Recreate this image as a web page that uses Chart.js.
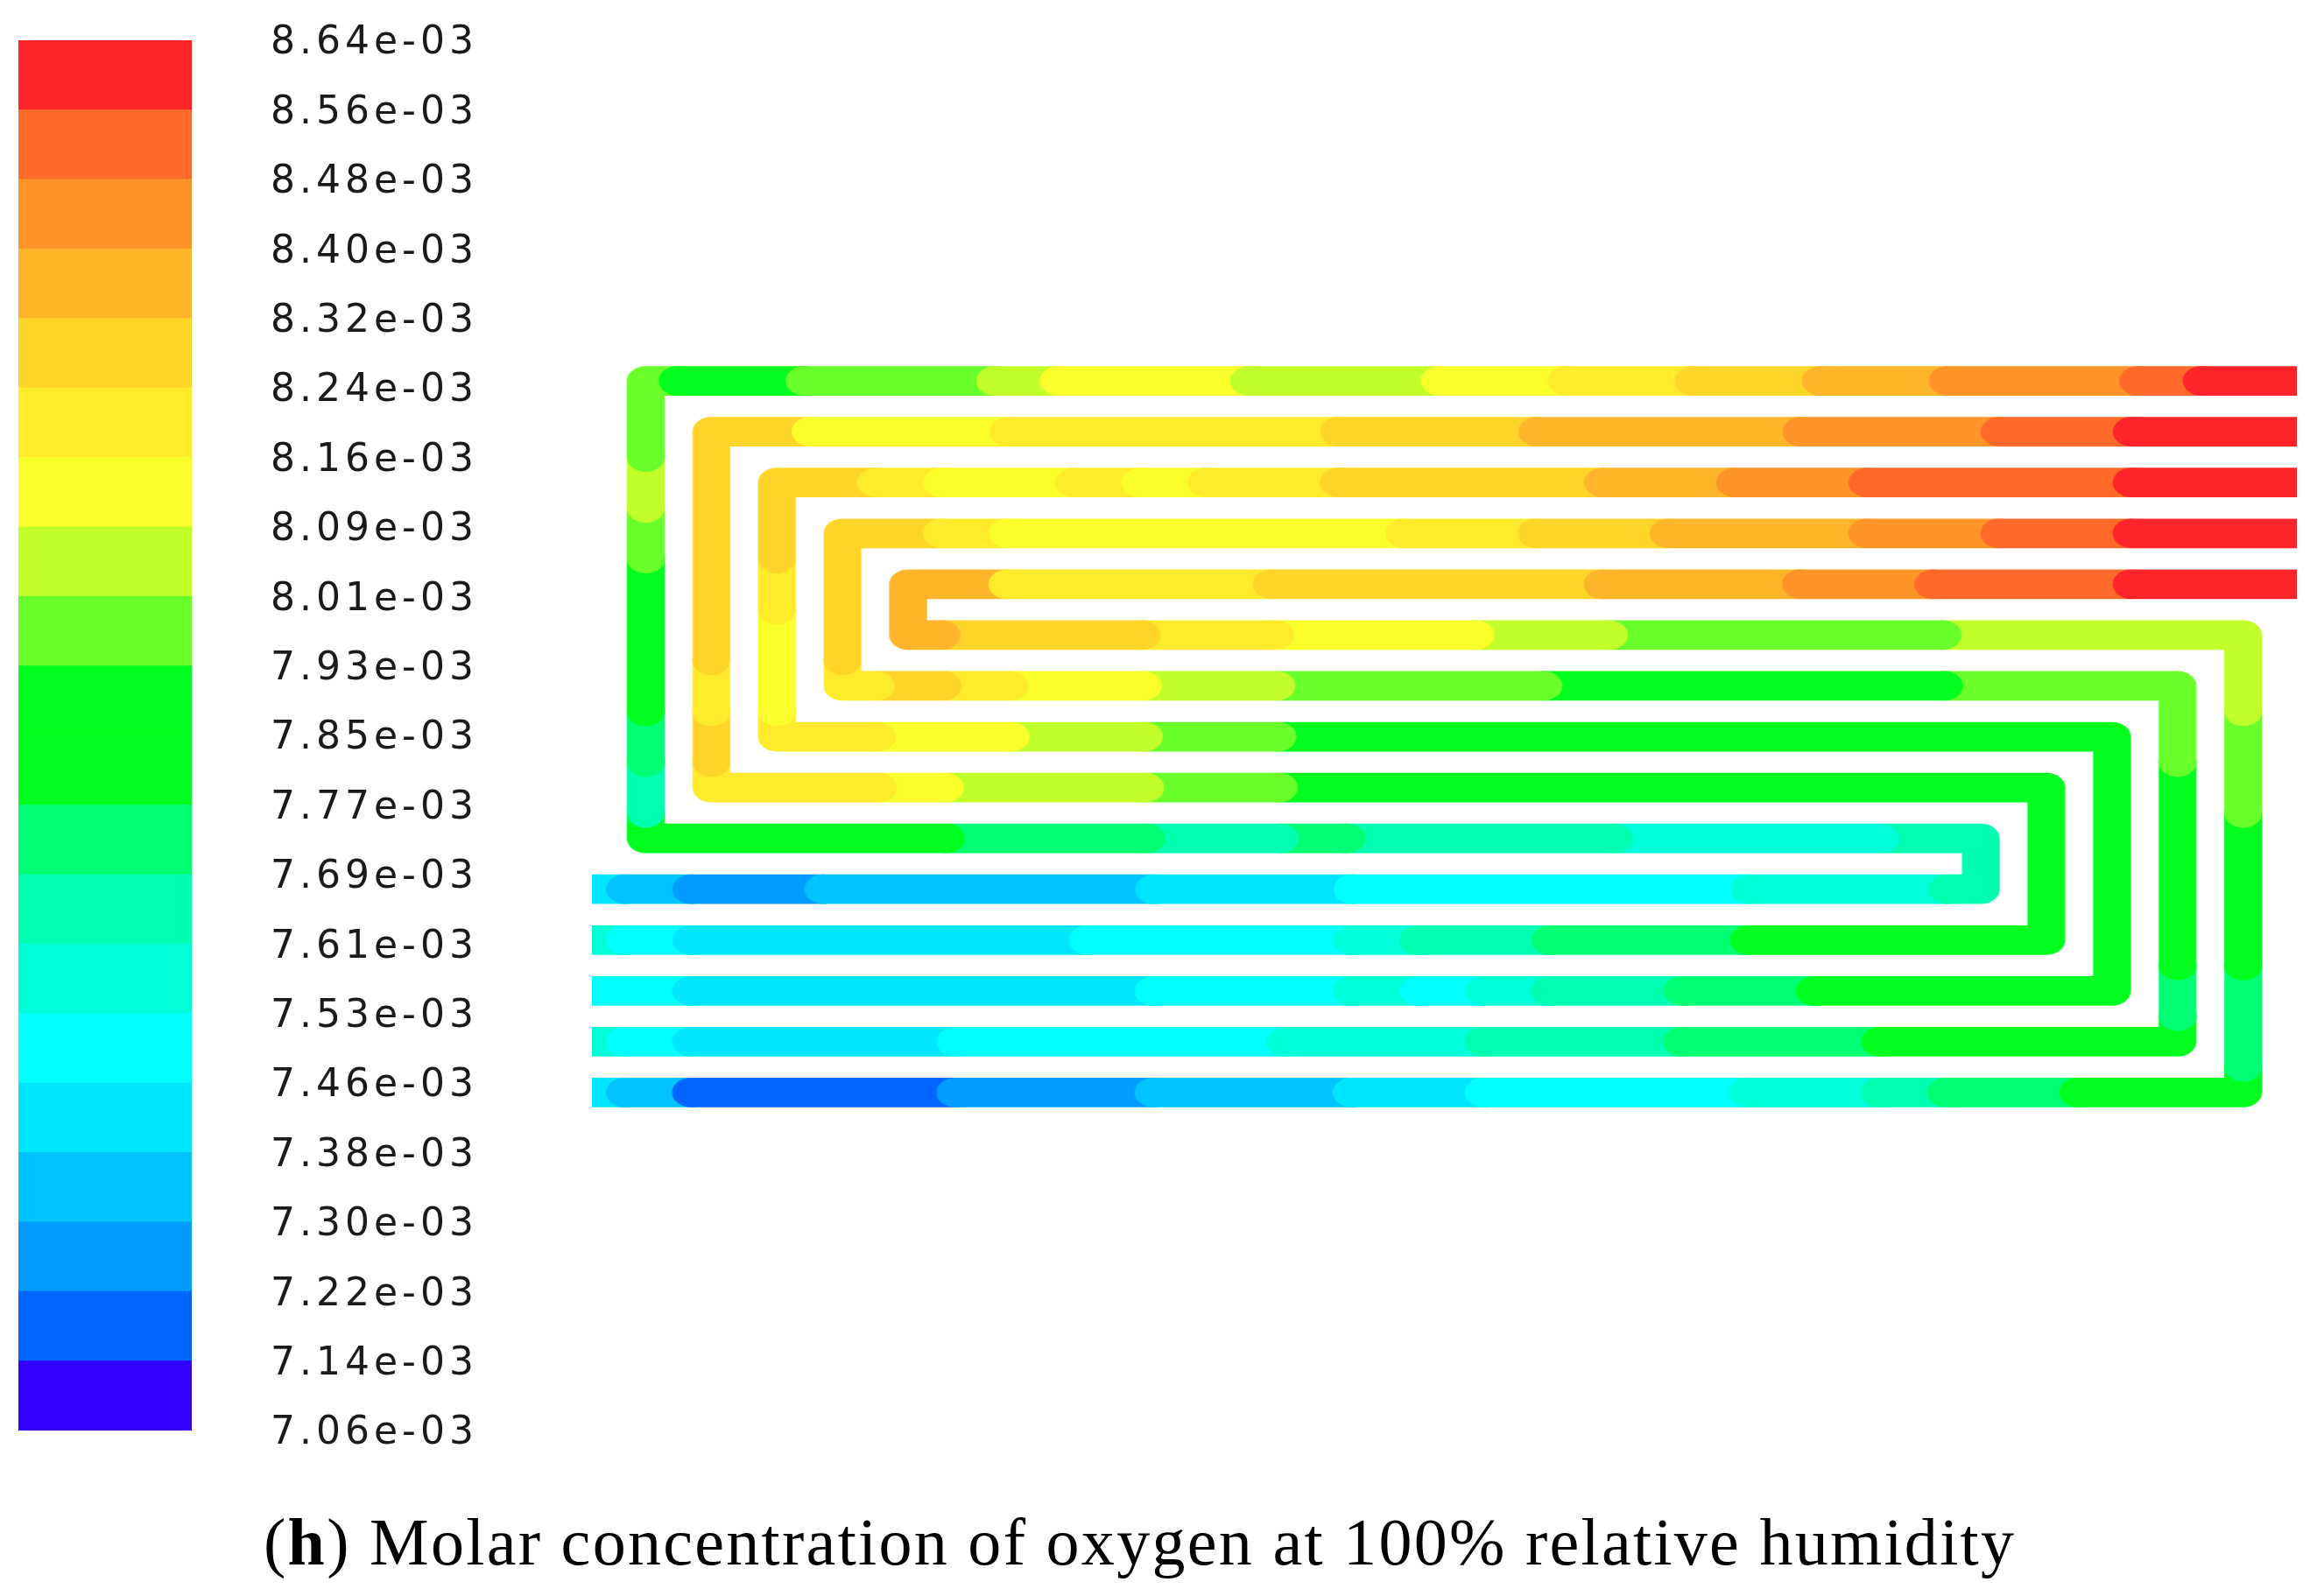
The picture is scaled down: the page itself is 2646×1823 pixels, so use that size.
<!DOCTYPE html>
<html><head><meta charset="utf-8">
<script src="https://cdn.jsdelivr.net/npm/chart.js@4.4.1/dist/chart.umd.min.js"></script>
<style>
html,body{margin:0;padding:0;background:#fff;}
#page{position:relative;width:2646px;height:1823px;overflow:hidden;background:#fff;}
#bar{position:absolute;left:0;top:0;}
#flow{position:absolute;left:676px;top:377px;transform-origin:0 0;transform:scaleX(1.2801);}
#cap{position:absolute;left:301px;top:1723px;font-family:'Liberation Serif','Times New Roman',serif;font-size:76px;line-height:76px;color:#000;white-space:nowrap;}
</style></head>
<body><div id="page">
<canvas id="bar" width="600" height="1700"></canvas>
<canvas id="flow" width="1521" height="929"></canvas>
<div id="cap">(<b>h</b>) Molar concentration of oxygen at 100% relative humidity</div>
</div>
<script>
// ---- colour scale (×1e-3) ----
const tickLabels = ['8.64e-03','8.56e-03','8.48e-03','8.40e-03','8.32e-03','8.24e-03','8.16e-03','8.09e-03','8.01e-03','7.93e-03','7.85e-03','7.77e-03','7.69e-03','7.61e-03','7.53e-03','7.46e-03','7.38e-03','7.30e-03','7.22e-03','7.14e-03','7.06e-03'];
const levels = [7.06,7.14,7.22,7.30,7.38,7.46,7.53,7.61,7.69,7.77,7.85,7.93,8.01,8.09,8.16,8.24,8.32,8.40,8.48,8.56,8.64];
const bandColors = ['#3300FF','#0066FF','#009CFF','#00C4FF','#00E6FF','#00FFFF','#00FFD8','#00FFB0','#00FF72','#00FF1E','#00FF1E','#69FF2A','#C2FF2A','#FAFF2B','#FFEB2B','#FFD52A','#FFB52A','#FF9428','#FF6A2A','#FF232A'];

// ---- flow-field geometry (channel pitch units) ----
const inletRow  = [1,2,3,4,5];
const midRow    = [10,9,8,7,6];
const outletRow = [11,12,13,14,15];
const leftTurnX  = [0.82,1.82,2.82,3.82,4.82];
const rightTurnX = [21.18,22.18,23.18,24.18,25.18];
const inletX = 26, outletX = 0;

// ---- oxygen concentration along each channel (×1e-3), in flow order ----
const chA_in    = [8.60,8.60,8.52,8.44,8.44,8.44,8.36,8.36,8.28,8.28,8.20,8.20,8.12,8.12,8.05,8.05,8.05,8.12,8.12,8.12,8.05,7.97,7.97,7.97,7.89,7.89,7.97];
const chA_left  = [7.97,7.97,8.05,7.97,7.89,7.89,7.81,7.73,7.65,7.89];
const chA_mid   = [7.89,7.89,7.89,7.89,7.81,7.73,7.73,7.73,7.65,7.65,7.73,7.65,7.65,7.65,7.65,7.57,7.57,7.57,7.57,7.65,7.65];
const chA_right = [7.65,7.65];
const chA_out   = [7.65,7.57,7.57,7.57,7.50,7.50,7.50,7.50,7.50,7.50,7.42,7.42,7.42,7.34,7.34,7.34,7.34,7.34,7.26,7.26,7.34,7.42];

const chB_in    = [8.60,8.60,8.60,8.52,8.52,8.44,8.44,8.44,8.36,8.36,8.36,8.36,8.28,8.28,8.28,8.20,8.20,8.20,8.20,8.20,8.12,8.12,8.12,8.28,8.28];
const chB_left  = [8.28,8.28,8.28,8.28,8.28,8.20,8.28,8.20];
const chB_mid   = [8.20,8.20,8.20,8.12,8.05,8.05,8.05,7.97,7.97,7.89,7.89,7.89,7.89,7.89,7.81,7.81,7.81,7.81,7.89,7.89,7.89];
const chB_right = [7.89,7.89,7.89,7.89];
const chB_out   = [7.89,7.89,7.89,7.89,7.81,7.73,7.73,7.73,7.65,7.65,7.57,7.50,7.50,7.50,7.50,7.42,7.42,7.42,7.42,7.42,7.42,7.50,7.57];

const chC_in    = [8.60,8.60,8.60,8.52,8.52,8.52,8.52,8.44,8.44,8.36,8.36,8.28,8.28,8.28,8.28,8.20,8.20,8.12,8.20,8.12,8.12,8.20,8.28,8.28];
const chC_left  = [8.28,8.28,8.20,8.12,8.12,8.20];
const chC_mid   = [8.20,8.20,8.12,8.12,8.05,8.05,7.97,7.97,7.89,7.89,7.89,7.89,7.89,7.89,7.81,7.81,7.81,7.81,7.89,7.89,7.89];
const chC_right = [7.89,7.89,7.89,7.89,7.81,7.89];
const chC_out   = [7.89,7.89,7.89,7.89,7.81,7.73,7.73,7.65,7.65,7.57,7.50,7.57,7.50,7.50,7.50,7.42,7.42,7.42,7.42,7.42,7.42,7.42,7.50,7.50];

const chD_in    = [8.60,8.60,8.60,8.52,8.52,8.44,8.44,8.36,8.36,8.36,8.28,8.28,8.20,8.20,8.12,8.12,8.12,8.12,8.12,8.12,8.20,8.28,8.28];
const chD_left  = [8.28,8.28,8.28,8.20];
const chD_mid   = [8.28,8.28,8.20,8.12,8.12,8.05,8.05,7.97,7.97,7.97,7.97,7.89,7.89,7.89,7.89,7.89,7.89,7.97,7.97,7.97,7.97];
const chD_right = [7.97,7.97,7.89,7.89,7.89,7.81,7.73,7.89];
const chD_out   = [7.89,7.89,7.89,7.89,7.81,7.73,7.73,7.73,7.65,7.65,7.65,7.57,7.57,7.57,7.50,7.50,7.50,7.50,7.50,7.42,7.42,7.42,7.42,7.50,7.57];

const chE_in    = [8.60,8.60,8.60,8.52,8.52,8.52,8.44,8.44,8.36,8.36,8.36,8.28,8.28,8.28,8.28,8.28,8.20,8.20,8.20,8.20,8.36,8.36];
const chE_left  = [8.36,8.36];
const chE_mid   = [8.36,8.28,8.28,8.28,8.20,8.20,8.12,8.12,8.12,8.05,8.05,7.97,7.97,7.97,7.97,7.97,8.05,8.05,8.05,8.05,8.05];
const chE_right = [8.05,8.05,7.97,7.97,7.89,7.89,7.81,7.73,7.73,7.89];
const chE_out   = [7.89,7.89,7.81,7.73,7.73,7.65,7.57,7.57,7.50,7.50,7.50,7.50,7.42,7.42,7.34,7.34,7.34,7.26,7.26,7.26,7.18,7.18,7.18,7.18,7.34,7.42];

const channels = [
  [chA_in,chA_left,chA_mid,chA_right,chA_out],
  [chB_in,chB_left,chB_mid,chB_right,chB_out],
  [chC_in,chC_left,chC_mid,chC_right,chC_out],
  [chD_in,chD_left,chD_mid,chD_right,chD_out],
  [chE_in,chE_left,chE_mid,chE_right,chE_out]
];

function bandOf(v){ let b = 0; for (let i = 0; i < levels.length - 1; i++) { if (v >= levels[i]) b = i; } return b; }
function colorOf(v){ return bandColors[bandOf(v)]; }

function buildPath(i){
  const [hin, vl, hm, vr, hout] = channels[i];
  const lx = leftTurnX[i], rx = rightTurnX[i], r1 = inletRow[i], rm = midRow[i], ro = outletRow[i];
  const passes = [[inletX,r1,lx,r1,hin],[lx,r1,lx,rm,vl],[lx,rm,rx,rm,hm],[rx,rm,rx,ro,vr],[rx,ro,outletX,ro,hout]];
  const pts = [];
  passes.forEach(([x0,y0,x1,y1,vals], p) => {
    const n = vals.length;
    for (let k = 0; k < n; k++) {
      const t = k / (n - 1);
      if (k > 0) {
        const tm = (k - 0.5) / (n - 1);
        pts.push({x: x0 + (x1 - x0) * tm, y: y0 + (y1 - y0) * tm, v: null});
      }
      if (k === 0 && p > 0) continue;
      pts.push({x: x0 + (x1 - x0) * t, y: y0 + (y1 - y0) * t, v: vals[k]});
    }
  });
  return pts.reverse();
}

const flowDatasets = channels.map((c, i) => {
  const data = buildPath(i);
  return {
    data,
    borderWidth: 33.75,
    borderCapStyle: 'round',
    borderJoinStyle: 'round',
    borderColor: '#00FF1E',
    pointRadius: 0,
    fill: false,
    tension: 0,
    clip: 0,
    segment: {
      borderColor: ctx => {
        const a = data[ctx.p0DataIndex].v, b = data[ctx.p1DataIndex].v;
        return colorOf(a != null ? a : b);
      }
    }
  };
});

new Chart(document.getElementById('flow'), {
  type: 'line',
  data: {datasets: flowDatasets},
  options: {
    responsive: false, animation: false, events: [],
    plugins: {legend: {display: false}, tooltip: {enabled: false}},
    layout: {padding: 0},
    scales: {
      x: {type: 'linear', min: 0, max: 26, display: false},
      y: {type: 'linear', min: 0, max: 16, reverse: true, display: false}
    }
  }
});

new Chart(document.getElementById('bar'), {
  type: 'bar',
  data: {
    labels: [''],
    datasets: bandColors.map((c, i) => ({
      data: [[i, i + 1]], backgroundColor: c, borderWidth: 0,
      grouped: false, barPercentage: 1, categoryPercentage: 1
    }))
  },
  options: {
    responsive: false, animation: false, events: [],
    plugins: {legend: {display: false}, tooltip: {enabled: false}},
    layout: {padding: {left: 21, top: 46, bottom: 66, right: 0}},
    scales: {
      x: {display: false},
      y: {
        type: 'linear', position: 'right', min: 0, max: 20,
        afterFit: s => { s.width = 381; },
        afterBuildTicks: s => { s.ticks = tickLabels.map((_, i) => ({value: i})); },
        grid: {display: false, drawTicks: true, tickLength: 90},
        border: {display: false},
        ticks: {
          autoSkip: false, padding: 0, labelOffset: 4, color: '#1a1a1a',
          font: {family: 'DejaVu Sans', size: 44},
          callback: v => tickLabels[20 - v]
        }
      }
    }
  },
  plugins: [{id: 'spacing', beforeDraw(chart){ chart.ctx.letterSpacing = '5px'; }}]
});

const cap = document.getElementById('cap');
const w = cap.getBoundingClientRect().width;
const n = cap.textContent.length;
cap.style.letterSpacing = ((1999 - w) / (n - 1)) + 'px';
</script>
</body></html>
